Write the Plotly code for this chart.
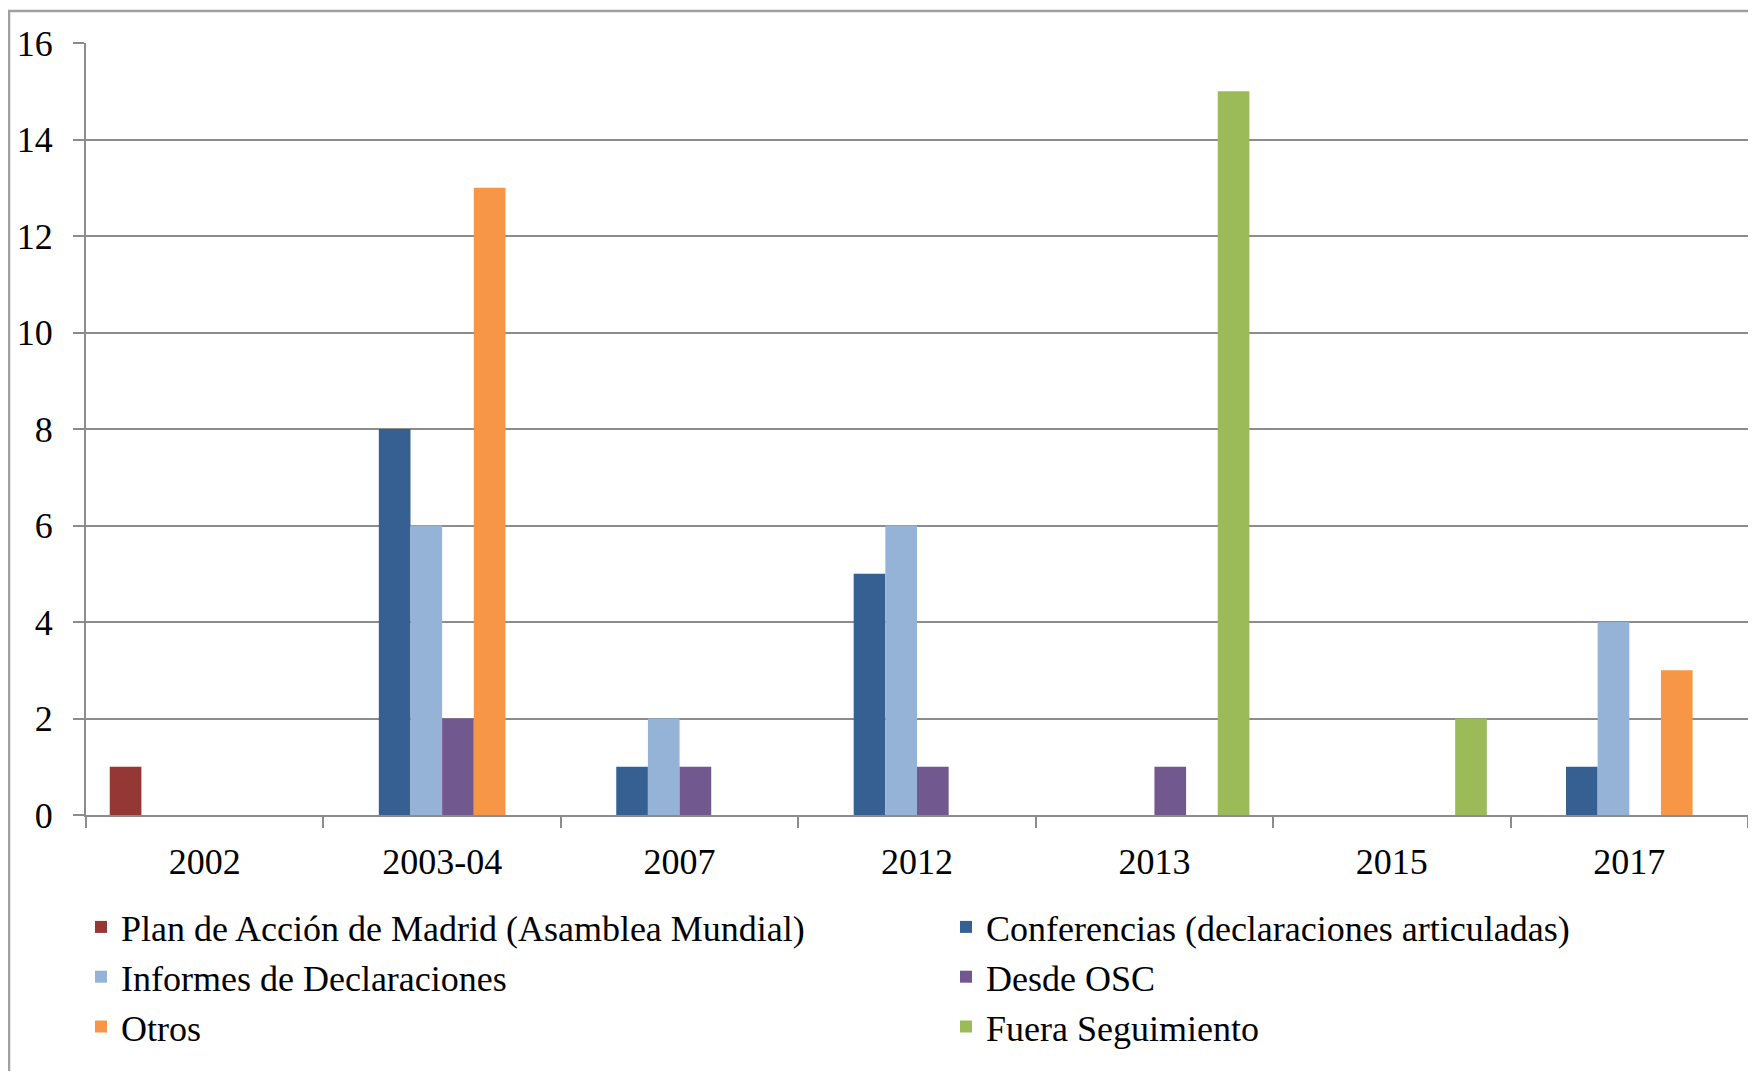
import plotly.graph_objects as go

categories = ["2002", "2003-04", "2007", "2012", "2013", "2015", "2017"]
series_names = [
    "Plan de Acción de Madrid (Asamblea Mundial)",
    "Conferencias (declaraciones articuladas)",
    "Informes de Declaraciones",
    "Desde OSC",
    "Otros",
    "Fuera Seguimiento",
]
plan_madrid = [1, 0, 0, 0, 0, 0, 0]
conferencias = [0, 8, 1, 5, 0, 0, 1]
informes = [0, 6, 2, 6, 0, 0, 4]
desde_osc = [0, 2, 1, 1, 1, 0, 0]
otros = [0, 13, 0, 0, 0, 0, 3]
fuera_seguimiento = [0, 0, 0, 0, 15, 2, 0]
series_values = [plan_madrid, conferencias, informes, desde_osc, otros, fuera_seguimiento]
colors = ["#953735", "#376092", "#95B3D7", "#71588F", "#F79646", "#9BBB59"]
y_ticks = [0, 2, 4, 6, 8, 10, 12, 14, 16]

# page has an 8px body margin; work in figure coordinates
W, H = 1740, 1063
OFF = 8
ml, mr, mt, mb = 86 - OFF, 0, 43 - OFF, H - (815 - OFF)
pw, ph = W - ml - mr, H - mt - mb

FONT = "Liberation Serif"
FS = 36

fig = go.Figure()
for name, vals, col in zip(series_names, series_values, colors):
    fig.add_trace(go.Bar(x=categories, y=vals, name=name,
                         marker=dict(color=col, line=dict(width=0))))

def px_x(p):  # p in page pixels
    return (p - OFF - ml) / pw

def px_y(p):
    return (H - mb - (p - OFF)) / ph

fig.add_shape(type="rect", xref="paper", yref="paper",
              x0=px_x(9), x1=px_x(1800), y0=px_y(11), y1=px_y(1120),
              line=dict(color="#A0A0A0", width=2.5), fillcolor="rgba(0,0,0,0)", layer="below")

fig.update_layout(
    width=W, height=H,
    margin=dict(l=ml, r=mr, t=mt, b=mb, autoexpand=False),
    paper_bgcolor="white", plot_bgcolor="white",
    barmode="group", bargap=0.2, bargroupgap=0,
    font=dict(family=FONT, size=FS, color="black"),
    showlegend=True,
    legend=dict(orientation="h", x=px_x(81), y=px_y(897), xanchor="left", yanchor="top",
                entrywidth=820, entrywidthmode="pixels", itemwidth=30,
                font=dict(family=FONT, size=FS, color="black"),
                bgcolor="rgba(0,0,0,0)", traceorder="normal", tracegroupgap=0),
    xaxis=dict(type="category", tickson="boundaries", ticks="outside", ticklen=11,
               tickcolor="#8C8C8C", tickwidth=2, showline=True, linecolor="#8C8C8C", linewidth=2,
               showgrid=False, ticklabelstandoff=14,
               tickfont=dict(family=FONT, size=FS, color="black")),
    yaxis=dict(range=[0, 16], tickvals=y_ticks, ticks="outside", ticklen=11,
               tickcolor="#8C8C8C", tickwidth=2, showline=True, linecolor="#8C8C8C", linewidth=2,
               showgrid=True, gridcolor="#8C8C8C", gridwidth=2, zeroline=False,
               ticklabelstandoff=13,
               tickfont=dict(family=FONT, size=FS, color="black")),
)

fig.write_html("out.html")
